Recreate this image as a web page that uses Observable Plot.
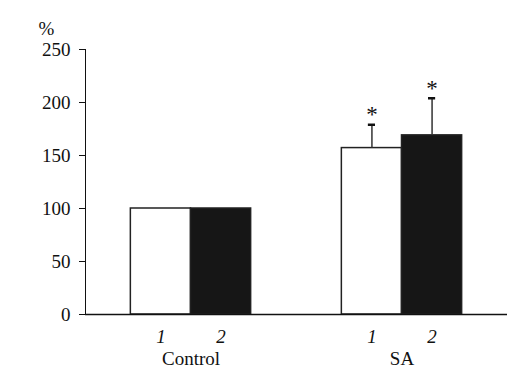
<!DOCTYPE html>
<html><head><meta charset="utf-8">
<script src="https://cdn.jsdelivr.net/npm/d3@7"></script>
<script src="https://cdn.jsdelivr.net/npm/@observablehq/plot@0.6"></script>
<style>
body{margin:0;background:#fff}
#chart svg, #chart svg text{font-family:'Liberation Serif','Times New Roman',serif !important;}
</style>
</head><body><div id="chart"></div>
<script>
const groups = ["Control", "SA"];
const series = ["1", "2"];
const controlValues = [100, 100];
const saValues = [157, 169];
const saErrors = [22, 35];
const yTicks = [0, 50, 100, 150, 200, 250];
const yUnit = "%";

const rows = [];
groups.forEach((g, gi) => series.forEach((s, si) => {
  const v = gi === 0 ? controlValues[si] : saValues[si];
  const e = gi === 0 ? 0 : saErrors[si];
  rows.push({group: g, series: s, value: v, err: e, top: v + e});
}));
const errRows = rows.filter(d => d.err > 0);

const plot = Plot.plot({
  width: 522, height: 378,
  marginLeft: 84, marginRight: 15, marginTop: 49, marginBottom: 64,
  style: {fontSize: "19px", color: "#111", background: "white"},
  fx: {domain: groups, padding: 0, label: null},
  x: {domain: series, paddingInner: 0, paddingOuter: 0.754, round: false, label: null},
  y: {domain: [0, 250], ticks: yTicks, tickSize: 6, tickPadding: 9, line: true, label: null},
  color: {domain: series, range: ["white", "#161616"]},
  marks: [
    Plot.axisX({tickSize: 0, tickPadding: 15, fontStyle: "italic", label: null}),
    Plot.axisFx({anchor: "bottom", tickSize: 0, tickPadding: 37, label: null}),
    Plot.barY(rows, {fx: "group", x: "series", y: "value", fill: "series", stroke: "#222", strokeWidth: 1.5}),
    Plot.ruleX(errRows, {fx: "group", x: "series", y1: "value", y2: "top", stroke: "#333", strokeWidth: 1.5}),
    Plot.tickY(errRows, {fx: "group", x: "series", y: "top", insetLeft: 26.5, insetRight: 26.5, stroke: "#111", strokeWidth: 2.5}),
    Plot.text(errRows, {fx: "group", x: "series", y: "top", text: () => "*", dy: -10, fontSize: 23, fill: "#111"}),
    Plot.ruleY([0], {stroke: "#111", strokeWidth: 1.5}),
    Plot.text([yUnit], {frameAnchor: "top-left", facetAnchor: "left", text: d => d, dx: -39, dy: -21, textAnchor: "middle", lineAnchor: "middle", fontSize: 19, fill: "#111"})
  ]
});
document.getElementById("chart").appendChild(plot);
</script>
</body></html>
